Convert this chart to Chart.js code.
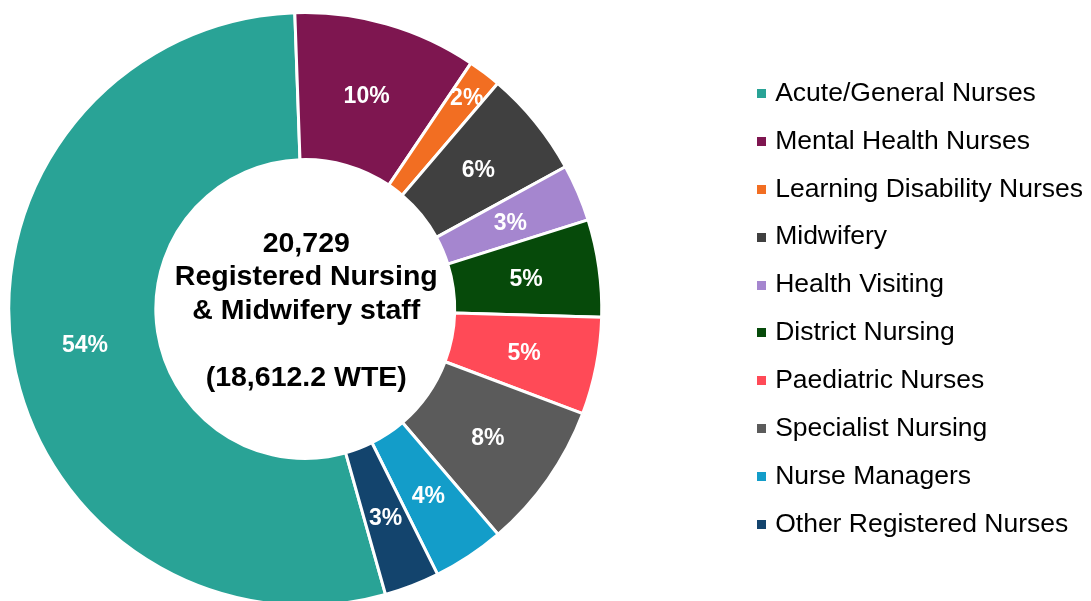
<!DOCTYPE html>
<html>
<head>
<meta charset="utf-8">
<script src="https://cdn.jsdelivr.net/npm/chart.js@4.4.1/dist/chart.umd.min.js"></script>
<style>
    html, body { margin: 0; padding: 0; background: #fff; }
    #wrap { width: 1091px; height: 601px; }
</style>
</head>
<body>
<div id="wrap"><canvas id="staff-chart"></canvas></div>
<script>
const categories = [
    'Acute/General Nurses',
    'Mental Health Nurses',
    'Learning Disability Nurses',
    'Midwifery',
    'Health Visiting',
    'District Nursing',
    'Paediatric Nurses',
    'Specialist Nursing',
    'Nurse Managers',
    'Other Registered Nurses'
];
// share of staff, %
const shares = [53.8, 10.0, 1.8, 5.8, 3.1, 5.3, 5.3, 8.0, 3.9, 3.0];
const colours = ['#29a396', '#7e1650', '#f26e22', '#404040', '#a586cf', '#064a0a', '#ff4a57', '#5b5b5b', '#139dc9', '#13446d'];
const centreLines = ['20,729', 'Registered Nursing', '& Midwifery staff', '', '(18,612.2 WTE)'];

const FONT = "'Liberation Sans', Arial, sans-serif";
// the tiny slice has its label pushed outwards, as in the original
const labelPush = { 2: 44 };
// ring sits further left than the plot area's middle
const PLOT_SHIFT = 130;

function swatch(colour) {
    const c = document.createElement('canvas');
    c.width = 9;
    c.height = 9;
    const g = c.getContext('2d');
    g.fillStyle = colour;
    g.fillRect(0, 0, 9, 9);
    return c;
}

const shiftPlot = {
    id: 'shiftPlot',
    afterLayout(chart) {
        const a = chart.chartArea;
        a.left -= PLOT_SHIFT;
        a.width = a.right - a.left;
    }
};

const sliceLabels = {
    id: 'sliceLabels',
    afterDatasetsDraw(chart) {
        const { ctx } = chart;
        const meta = chart.getDatasetMeta(0);
        const total = shares.reduce((a, b) => a + b, 0);
        ctx.save();
        ctx.font = `bold 23px ${FONT}`;
        ctx.fillStyle = '#ffffff';
        ctx.textAlign = 'center';
        ctx.textBaseline = 'middle';
        meta.data.forEach((arc, i) => {
            const { x, y, startAngle, endAngle, innerRadius, outerRadius } =
                arc.getProps(['x', 'y', 'startAngle', 'endAngle', 'innerRadius', 'outerRadius'], true);
            const mid = (startAngle + endAngle) / 2;
            const r = (innerRadius + outerRadius) / 2 + (labelPush[i] || 0);
            ctx.fillText(Math.round(shares[i] / total * 100) + '%', x + Math.cos(mid) * r, y + Math.sin(mid) * r + 2);
        });
        ctx.restore();
    }
};

const centreText = {
    id: 'centreText',
    afterDatasetsDraw(chart) {
        const { ctx } = chart;
        const arc = chart.getDatasetMeta(0).data[0];
        if (!arc) return;
        ctx.save();
        ctx.font = `bold 28.5px ${FONT}`;
        ctx.fillStyle = '#000000';
        ctx.textAlign = 'center';
        ctx.textBaseline = 'middle';
        centreLines.forEach((line, i) => {
            ctx.fillText(line, arc.x + 1, arc.y + (i - 2) * 33.5 + 2);
        });
        ctx.restore();
    }
};

new Chart(document.getElementById('staff-chart'), {
    type: 'doughnut',
    data: {
        labels: categories,
        datasets: [{
            data: shares,
            backgroundColor: colours,
            borderColor: '#ffffff',
            borderWidth: 3,
            hoverOffset: 0
        }]
    },
    options: {
        responsive: true,
        maintainAspectRatio: false,
        animation: false,
        events: [],
        rotation: 164.3,
        radius: 296.5,
        cutout: '50.4%',
        layout: { padding: { top: 17, bottom: 0, left: 0, right: -2 } },
        plugins: {
            tooltip: { enabled: false },
            legend: {
                position: 'right',
                labels: {
                    color: '#000000',
                    font: { family: FONT, size: 26.5 },
                    padding: 21.4,
                    usePointStyle: true,
                    pointStyleWidth: 0.01,
                    boxHeight: 9,
                    generateLabels(chart) {
                        const items = Chart.overrides.doughnut.plugins.legend.labels.generateLabels(chart);
                        items.forEach((item, i) => { item.pointStyle = swatch(colours[i]); });
                        return items;
                    }
                }
            }
        }
    },
    plugins: [shiftPlot, sliceLabels, centreText]
});
</script>
</body>
</html>
